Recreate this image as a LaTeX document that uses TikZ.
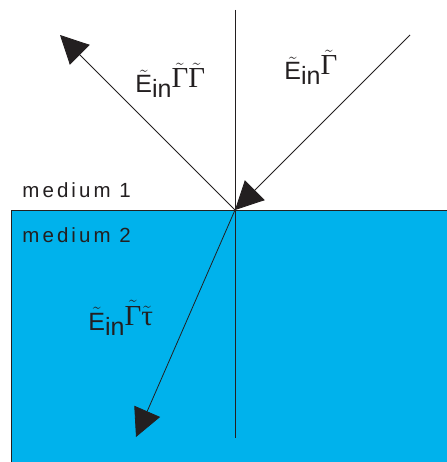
\documentclass[tikz,border=0pt]{standalone}
\usepackage{fontspec}
\setmainfont{Liberation Sans}
\newfontfamily\grk{Liberation Serif}
\usetikzlibrary{arrows.meta}
\definecolor{ink}{RGB}{35,31,32}
\definecolor{cyanfill}{RGB}{0,178,236}
\newcommand{\tl}[1]{\ensuremath{\tilde{\mbox{#1}}}}
\newcommand{\Ein}{\tl{E}\raisebox{-5pt}{in}}
\newcommand{\Gm}{\raisebox{5pt}{\fontsize{29}{32}\selectfont\tl{\grk Γ}}}
\newcommand{\Ta}{\raisebox{5pt}{\fontsize{29}{32}\selectfont\tl{\grk τ}}}
\begin{document}
\begin{tikzpicture}[x=1pt,y=-1pt, line width=0.8pt, color=ink,
  tip/.style={-{Triangle[length=28pt,width=28pt]}},
  lbl/.style={anchor=base west, inner sep=0, font=\fontsize{25}{30}\selectfont},
  med/.style={anchor=base west, inner sep=0, font=\fontsize{20.5}{24}\selectfont\addfontfeature{LetterSpace=15}}]
\useasboundingbox (0,0) rectangle (446,462);
\fill[cyanfill] (11,210) rectangle (447,463);
\draw (447,210) -- (11,210) -- (11,463);
\coordinate (O) at (235,210);
\coordinate (top) at (235,10);
\coordinate (bot) at (235,438);
\coordinate (src) at (410,35);
\coordinate (refl) at (60,35);
\coordinate (tr) at (136,437);
\draw (top) -- (bot);
\draw[tip] (src) -- (O);
\draw[tip] (O) -- (refl);
\draw[tip] (O) -- (tr);
\node[med] (m1) at (22,197) {medium 1};
\node[med] (m2) at (22,242) {medium 2};
\node[lbl] (l1) at (135,93) {\Ein\Gm\Gm};
\node[lbl] (l2) at (284,80) {\Ein\Gm};
\node[lbl] (l3) at (88,330) {\Ein\Gm\Ta};
\end{tikzpicture}
\end{document}
